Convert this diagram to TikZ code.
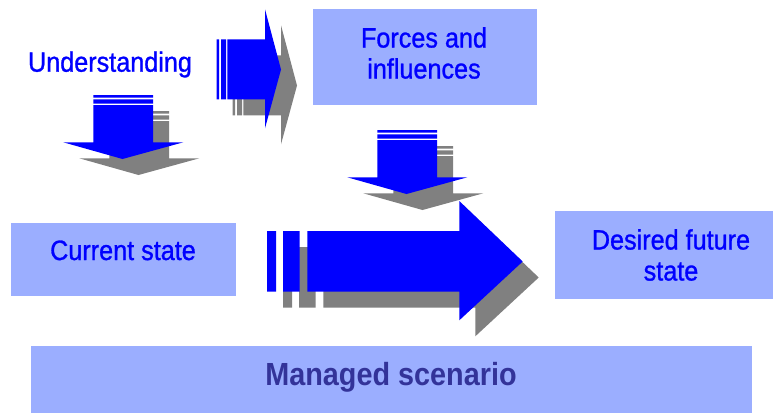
\documentclass[tikz,border=0pt]{standalone}
\usepackage{fontspec}
\setmainfont{Liberation Sans}[FakeStretch=0.9]
\newfontfamily\labelfont{Liberation Sans}[FakeStretch=0.9, FakeBold=1]
\definecolor{boxfill}{RGB}{155,174,255}
\definecolor{arrowblue}{RGB}{0,0,255}
\definecolor{shadowgray}{RGB}{128,128,128}
\definecolor{navytext}{RGB}{51,51,153}

% striped block arrow pointing right (top)
\newcommand\arrowTop[1]{%
  \fill[#1] (216.7,39.3) rectangle (219,99.3)
            (221,39.3) rectangle (226,99.3)
            (227.3,39.3) -- (265,39.3) -- (265,9.3) -- (281,69.5)
            -- (265,128.3) -- (265,99.3) -- (227.3,99.3) -- cycle;}
% large striped block arrow pointing right
\newcommand\arrowBig[1]{%
  \fill[#1] (267,231) rectangle (276,291.7)
            (283,231) rectangle (299.7,291.7)
            (307.3,231) -- (459.3,231) -- (459.3,201) -- (522.7,261.5)
            -- (459.3,320.3) -- (459.3,291.7) -- (307.3,291.7) -- cycle;}
% striped block arrow pointing down
\newcommand\arrowDown[2]{%
  \fill[#1, shift={#2}] (93.3,95) rectangle (153,97.7)
            (93.3,99.3) rectangle (153,103.7)
            (93.3,105) -- (153,105) -- (153,142.3) -- (183.3,142.3)
            -- (122.5,159) -- (63.3,142.3) -- (93.3,142.3) -- cycle;}

\begin{document}
\begin{tikzpicture}[x=1pt,y=-1pt,
  panel/.style={fill=boxfill, draw=none, inner sep=0pt, anchor=north west},
  label/.style={text=arrowblue, font=\labelfont\fontsize{28}{31}\selectfont, align=center, inner sep=0pt, anchor=base},
  shade/.style={fill=shadowgray, shift={(16,16)}},
  solidblue/.style={fill=arrowblue}]

\useasboundingbox (0,0) rectangle (773,413);

% panels
\node[panel, minimum width=224pt, minimum height=96pt] (forces) at (313,9) {};
\node[panel, minimum width=225pt, minimum height=73pt] (current) at (11,222.7) {};
\node[panel, minimum width=218pt, minimum height=87.3pt] (desired) at (555,211) {};
\node[panel, minimum width=721pt, minimum height=67pt] (managed) at (31,346) {};

% arrow shadows
\arrowTop{shade}
\arrowDown{shade}{(0,0)}
\arrowDown{shade}{(284,35)}
\arrowBig{shade}

% arrows
\arrowTop{solidblue}
\arrowDown{solidblue}{(0,0)}
\arrowDown{solidblue}{(284,35)}
\arrowBig{solidblue}

% labels (multi-line labels sit on the baseline of their last line)
\node[label] (understanding) at (110,71.7) {Understanding};
\node[label] (forcesText) at (424,78.5) {Forces and\\influences};
\node[label] (currentText) at (123,260) {Current state};
\node[label] (desiredText) at (671,280.5) {Desired future\\state};
\node[label, text=navytext, font=\bfseries\fontsize{32}{36}\selectfont] (managedText) at (391,385) {Managed scenario};
\end{tikzpicture}
\end{document}
